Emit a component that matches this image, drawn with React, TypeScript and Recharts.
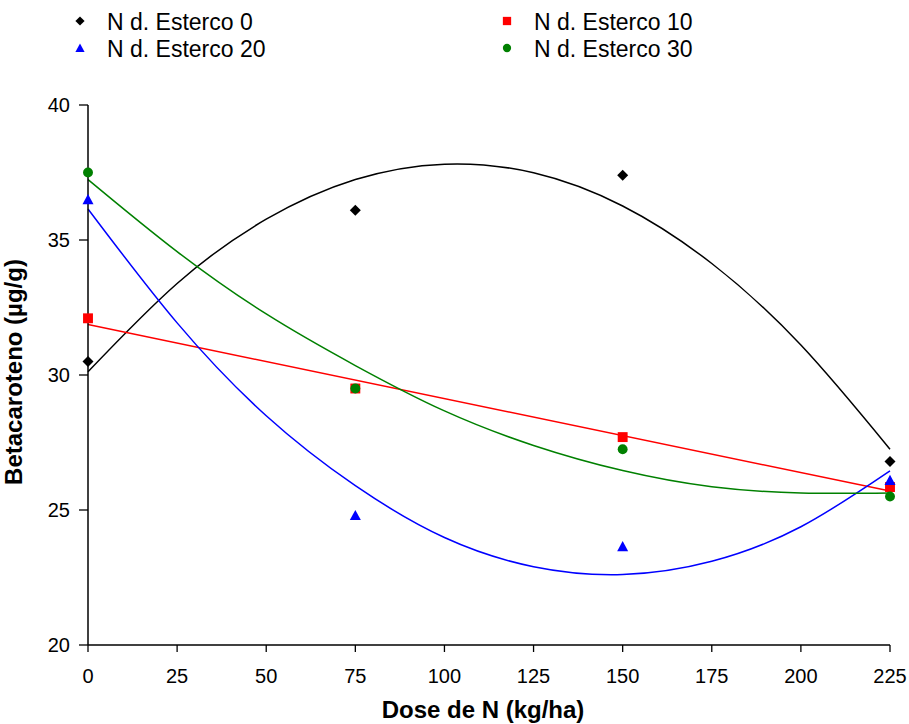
import React from "react";
import {
  ComposedChart,
  Line,
  Scatter,
  XAxis,
  YAxis,
  Legend,
} from "recharts";

// doses de N (kg/ha)
const doses = [0, 75, 150, 225];

// betacaroteno (µg/g) observado
const esterco0 = [30.5, 36.1, 37.4, 26.8];
const esterco10 = [32.1, 29.5, 27.7, 25.85];
const esterco20 = [36.5, 24.8, 23.65, 26.1];
const esterco30 = [37.5, 29.5, 27.25, 25.5];

// linhas de tendência
const trendDoses = [0, 25, 50, 75, 100, 125, 150, 175, 200, 225];
const trend0 = [30.12, 33.39, 35.77, 37.24, 37.81, 37.49, 36.26, 34.13, 31.11, 27.25];
const trend10Doses = [0, 225];
const trend10 = [31.87, 25.7];
const trend20 = [36.15, 31.93, 28.49, 25.9, 23.98, 22.9, 22.61, 23.1, 24.38, 26.45];
const trend30 = [37.24, 34.57, 32.26, 30.35, 28.67, 27.39, 26.46, 25.86, 25.63, 25.63];

const xTicks = [0, 25, 50, 75, 100, 125, 150, 175, 200, 225];
const yTicks = [20, 25, 30, 35, 40];

const seriesNames = ["N d. Esterco 0", "N d. Esterco 10", "N d. Esterco 20", "N d. Esterco 30"];

const FONT = "'Liberation Sans', Arial, sans-serif";

const toPoints = (xs: number[], ys: number[]) => xs.map((x, i) => ({ x, y: ys[i] }));

const Marker = ({ kind, cx, cy, s, color }: any) => {
  if (kind === "diamond")
    return <polygon points={`${cx},${cy - s} ${cx + s},${cy} ${cx},${cy + s} ${cx - s},${cy}`} fill={color} />;
  if (kind === "square")
    return <rect x={cx - s * 0.9} y={cy - s * 0.9} width={s * 1.8} height={s * 1.8} fill={color} />;
  if (kind === "triangle")
    return <polygon points={`${cx},${cy - s} ${cx + s},${cy + s * 0.85} ${cx - s},${cy + s * 0.85}`} fill={color} />;
  return <circle cx={cx} cy={cy} r={s * 0.9} fill={color} />;
};

const series = [
  { name: seriesNames[0], data: esterco0, trendX: trendDoses, trend: trend0, color: "#000000", kind: "diamond" },
  { name: seriesNames[1], data: esterco10, trendX: trend10Doses, trend: trend10, color: "#ff0000", kind: "square" },
  { name: seriesNames[2], data: esterco20, trendX: trendDoses, trend: trend20, color: "#0000ff", kind: "triangle" },
  { name: seriesNames[3], data: esterco30, trendX: trendDoses, trend: trend30, color: "#008000", kind: "circle" },
];

const renderLegend = () => {
  // duas colunas, duas linhas
  const cols = [80, 507];
  const rows = [21, 48];
  return (
    <svg width={909} height={70} style={{ display: "block" }}>
      {series.map((s, i) => {
        const cx = cols[i % 2];
        const cy = rows[Math.floor(i / 2)];
        return (
          <g key={s.name}>
            <Marker kind={s.kind} cx={cx} cy={cy} s={4.6} color={s.color} />
            <text x={cx + 27} y={cy + 9} fontSize={23} fontFamily={FONT} fill="#000">
              {s.name}
            </text>
          </g>
        );
      })}
    </svg>
  );
};

export default function App() {
  return (
    <div style={{ position: "absolute", left: 0, top: 0, background: "#fff" }}>
      <ComposedChart width={909} height={724} margin={{ top: 105, right: 19, bottom: 0, left: 0 }}>
        <XAxis
          dataKey="x"
          type="number"
          domain={[0, 225]}
          ticks={xTicks}
          interval={0}
          tickSize={7}
          tickMargin={17}
          height={79}
          axisLine={{ stroke: "#000", strokeWidth: 1.5 }}
          tickLine={{ stroke: "#000", strokeWidth: 1.3 }}
          tick={{ fill: "#000", fontSize: 20, fontFamily: FONT }}
          label={() => (
            <text x={483} y={718} textAnchor="middle" fontSize={24} fontWeight="bold" fontFamily={FONT} fill="#000">
              Dose de N (kg/ha)
            </text>
          )}
        />
        <YAxis
          dataKey="y"
          type="number"
          domain={[20, 40]}
          ticks={yTicks}
          interval={0}
          width={88}
          tickSize={9}
          tickMargin={9}
          axisLine={{ stroke: "#000", strokeWidth: 1.5 }}
          tickLine={{ stroke: "#000", strokeWidth: 1.3 }}
          tick={{ fill: "#000", fontSize: 20, fontFamily: FONT }}
          label={() => (
            <text
              x={22}
              y={372}
              transform="rotate(-90 22 372)"
              textAnchor="middle"
              fontSize={24}
              fontWeight="bold"
              fontFamily={FONT}
              fill="#000"
            >
              Betacaroteno (µg/g)
            </text>
          )}
        />
        <Legend
          layout="horizontal"
          verticalAlign="middle"
          align="center"
          content={renderLegend}
          wrapperStyle={{ position: "absolute", top: 0, left: 0, width: 909, height: 70 }}
        />
        {series.map((s) => (
          <Line
            key={`t-${s.name}`}
            data={toPoints(s.trendX, s.trend)}
            dataKey="y"
            type="natural"
            stroke={s.color}
            strokeWidth={1.5}
            dot={false}
            activeDot={false}
            legendType="none"
            isAnimationActive={false}
          />
        ))}
        {series.map((s) => (
          <Scatter
            key={`p-${s.name}`}
            name={s.name}
            data={toPoints(doses, s.data)}
            fill={s.color}
            shape={(p: any) => <Marker kind={s.kind} cx={p.cx} cy={p.cy} s={5.5} color={s.color} />}
            isAnimationActive={false}
          />
        ))}
      </ComposedChart>
    </div>
  );
}
